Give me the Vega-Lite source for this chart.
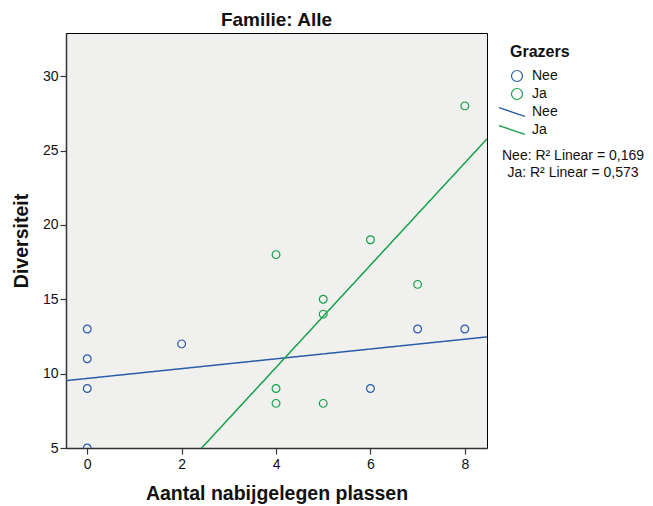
{
  "$schema": "https://vega.github.io/schema/vega-lite/v6.json",
  "width": 421,
  "height": 415,
  "padding": {"left": 11, "top": 11, "right": 5, "bottom": 5},
  "title": {"text": "Familie: Alle", "fontSize": 19, "fontWeight": "bold", "font": "Liberation Sans", "color": "#111", "offset": 3, "anchor": "middle"},
  "config": {
    "font": "Liberation Sans",
    "view": {"fill": "#f0f0ee", "stroke": "#000", "strokeWidth": 1},
    "axis": {"grid": false, "labelFontSize": 14, "labelColor": "#111", "labelFont": "Liberation Sans", "titleFont": "Liberation Sans", "titleFontSize": 19.5, "titleFontWeight": "bold", "titleColor": "#111", "tickSize": 6, "tickColor": "#333", "domainColor": "#333", "domainWidth": 1.5, "tickWidth": 1.2},
    "axisX": {"labelPadding": 3, "titlePadding": 13},
    "axisY": {"labelPadding": 2, "titlePadding": 11},
    "legend": {"labelFontSize": 14, "labelFont": "Liberation Sans", "labelColor": "#111", "titleFont": "Liberation Sans", "titleFontSize": 16, "titleFontWeight": "bold", "titleColor": "#111", "rowPadding": 2, "orient": "none"}
  },
  "data": {"values": [
    {"plassen": 0, "diversiteit": 13, "grazers": "Nee"},
    {"plassen": 0, "diversiteit": 11, "grazers": "Nee"},
    {"plassen": 0, "diversiteit": 9, "grazers": "Nee"},
    {"plassen": 0, "diversiteit": 5, "grazers": "Nee"},
    {"plassen": 2, "diversiteit": 12, "grazers": "Nee"},
    {"plassen": 6, "diversiteit": 9, "grazers": "Nee"},
    {"plassen": 7, "diversiteit": 13, "grazers": "Nee"},
    {"plassen": 8, "diversiteit": 13, "grazers": "Nee"},
    {"plassen": 4, "diversiteit": 18, "grazers": "Ja"},
    {"plassen": 4, "diversiteit": 9, "grazers": "Ja"},
    {"plassen": 4, "diversiteit": 8, "grazers": "Ja"},
    {"plassen": 5, "diversiteit": 15, "grazers": "Ja"},
    {"plassen": 5, "diversiteit": 14, "grazers": "Ja"},
    {"plassen": 5, "diversiteit": 8, "grazers": "Ja"},
    {"plassen": 6, "diversiteit": 19, "grazers": "Ja"},
    {"plassen": 7, "diversiteit": 16, "grazers": "Ja"},
    {"plassen": 8, "diversiteit": 28, "grazers": "Ja"}
  ]},
  "layer": [
    {
      "mark": {"type": "point", "filled": false, "size": 60, "strokeWidth": 1.2, "opacity": 1, "clip": true},
      "encoding": {
        "x": {"field": "plassen", "type": "quantitative", "scale": {"domain": [-0.45, 8.47], "nice": false, "zero": false}, "axis": {"values": [0, 2, 4, 6, 8], "title": "Aantal nabijgelegen plassen"}},
        "y": {"field": "diversiteit", "type": "quantitative", "scale": {"domain": [5, 32.9], "nice": false, "zero": false}, "axis": {"values": [5, 10, 15, 20, 25, 30], "title": "Diversiteit"}},
        "color": {"field": "grazers", "type": "nominal", "scale": {"domain": ["Nee", "Ja"], "range": ["#2a5caa", "#16a04a"]}, "legend": {"title": "Grazers", "orient": "none", "legendX": 444, "legendY": 11, "symbolType": "circle", "symbolSize": 120, "symbolStrokeWidth": 1.2, "titlePadding": 9, "labelOffset": 8}}
      }
    },
    {
      "transform": [{"regression": "diversiteit", "on": "plassen", "groupby": ["grazers"], "extent": [-0.45, 8.47]}],
      "mark": {"type": "line", "clip": true, "strokeWidth": 1.5},
      "encoding": {
        "x": {"field": "plassen", "type": "quantitative"},
        "y": {"field": "diversiteit", "type": "quantitative"},
        "stroke": {"field": "grazers", "type": "nominal", "scale": {"domain": ["Ja", "Nee"], "range": ["#16a04a", "#2a5caa"]}, "legend": {"title": null, "orient": "none", "legendX": 444, "legendY": 72, "values": ["Nee", "Ja"], "symbolType": "M-3.3,-0.8L1.45,0.8", "symbolSize": 120, "symbolStrokeWidth": 1.4, "labelOffset": 8}},
        "strokeDash": {"field": "grazers", "type": "nominal", "scale": {"range": [[1, 0], [1, 0]]}, "legend": {"title": null, "orient": "none", "legendX": 437, "legendY": 116, "values": ["Nee", "Ja"], "labelExpr": "datum.label == 'Nee' ? 'Nee: R² Linear = 0,169' : 'Ja: R² Linear = 0,573'", "symbolOpacity": 0, "symbolSize": 0, "symbolStrokeWidth": 0, "labelAlign": "center", "labelOffset": 56, "rowPadding": 3}}
      }
    }
  ]
}
